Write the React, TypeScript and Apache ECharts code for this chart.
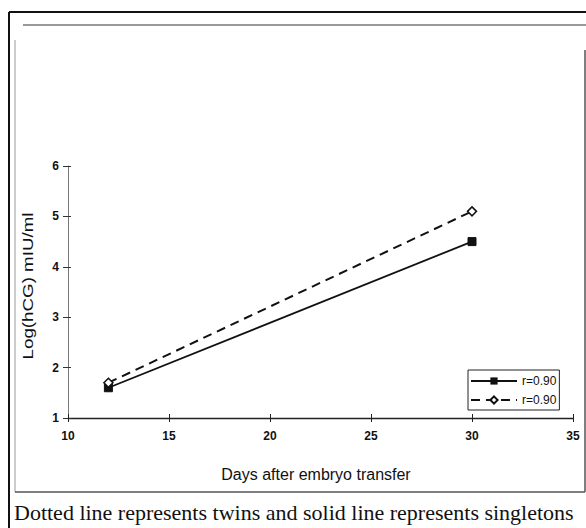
import React, { useEffect, useRef } from "react";
import * as echarts from "echarts";

const days = [12, 30];
const singletons = [1.6, 4.5];
const twins = [1.7, 5.1];
const legendLabels = ["r=0.90", "r=0.90"];
const xTitle = "Days after embryo transfer";
const yTitle = "Log(hCG) mIU/ml";
const caption = "Dotted line represents twins and solid line represents singletons";

export default function App() {
  const ref = useRef<HTMLDivElement>(null);
  useEffect(() => {
    if (!ref.current) return;
    const chart = echarts.init(ref.current, null, { renderer: "svg" });
    const font = "Liberation Sans, Arial, sans-serif";
    chart.setOption({
      animation: false,
      backgroundColor: "#ffffff",
      grid: { left: 68, right: 13, top: 166, bottom: 110 },
      xAxis: [
        {
          type: "value", min: 10, max: 35, interval: 5,
          axisLine: { lineStyle: { color: "#222", width: 1.3 } },
          axisTick: { length: 4, lineStyle: { color: "#222" } },
          axisLabel: { color: "#111", fontSize: 12, fontWeight: "bold", fontFamily: font, margin: 12 },
          splitLine: { show: false },
        },
        {
          type: "value", min: 10, max: 35, interval: 5, position: "bottom",
          axisLine: { show: false },
          axisTick: { inside: true, length: 4, lineStyle: { color: "#222" } },
          axisLabel: { show: false },
          splitLine: { show: false },
        },
      ],
      yAxis: [
        {
          type: "value", min: 1, max: 6, interval: 1,
          axisLine: { lineStyle: { color: "#777", width: 1 } },
          axisTick: { length: 5, lineStyle: { color: "#333" } },
          axisLabel: { color: "#111", fontSize: 12, fontWeight: "bold", fontFamily: font, margin: 9 },
          splitLine: { show: false },
        },
        {
          type: "value", min: 1, max: 6, interval: 1, position: "left",
          axisLine: { show: false },
          axisTick: { inside: true, length: 3, lineStyle: { color: "#333" } },
          axisLabel: { show: false },
          splitLine: { show: false },
        },
      ],
      legend: {
        orient: "vertical",
        left: 468, top: 370,
        padding: [5, 3, 4, 2],
        itemGap: 7,
        itemWidth: 46, itemHeight: 9,
        borderColor: "#222", borderWidth: 1,
        data: ["singletons", "twins"],
        formatter: (name: string) => (name === "singletons" ? legendLabels[0] : legendLabels[1]),
        textStyle: { fontSize: 12, fontFamily: font, color: "#111" },
      },
      series: [
        {
          name: "singletons", type: "line",
          data: days.map((d, i) => [d, singletons[i]]),
          symbol: "rect", symbolSize: 8,
          itemStyle: { color: "#111", borderColor: "#111" },
          lineStyle: { color: "#111", width: 1.8, type: "solid" },
        },
        {
          name: "twins", type: "line",
          data: days.map((d, i) => [d, twins[i]]),
          symbol: "diamond", symbolSize: 9,
          itemStyle: { color: "#fff", borderColor: "#111", borderWidth: 1.5 },
          lineStyle: { color: "#111", width: 2, type: [9, 6] },
        },
      ],
      graphic: [
        { type: "line", shape: { x1: 9, y1: 12, x2: 9, y2: 528 }, style: { stroke: "#111", lineWidth: 2 } },
        { type: "line", shape: { x1: 9, y1: 12, x2: 586, y2: 12 }, style: { stroke: "#111", lineWidth: 2 } },
        { type: "line", shape: { x1: 23, y1: 25, x2: 586, y2: 25 }, style: { stroke: "#777", lineWidth: 1.3 } },
        { type: "line", shape: { x1: 15, y1: 40, x2: 15, y2: 492 }, style: { stroke: "#999", lineWidth: 1 } },
        { type: "line", shape: { x1: 15, y1: 492, x2: 585, y2: 492 }, style: { stroke: "#555", lineWidth: 1.5 } },
        { type: "line", shape: { x1: 585, y1: 50, x2: 585, y2: 492 }, style: { stroke: "#555", lineWidth: 1.5 } },
        {
          type: "text", x: 28, y: 286, rotation: Math.PI / 2, scaleX: 1.25,
          style: { text: yTitle, fontSize: 15, fontFamily: font, fill: "#111", align: "center", verticalAlign: "middle" },
        },
        {
          type: "text", x: 316, y: 474,
          style: { text: xTitle, fontSize: 16, fontFamily: font, fill: "#111", align: "center", verticalAlign: "middle" },
        },
        {
          type: "text", x: 14, y: 512,
          style: { text: caption, fontSize: 22, fontFamily: "Liberation Serif, Times New Roman, serif", fill: "#111", align: "left", verticalAlign: "middle" },
        },
      ],
    });
    return () => chart.dispose();
  }, []);
  return (
    <div
      ref={ref}
      style={{ position: "absolute", left: 0, top: 0, width: 586, height: 528 }}
    />
  );
}
